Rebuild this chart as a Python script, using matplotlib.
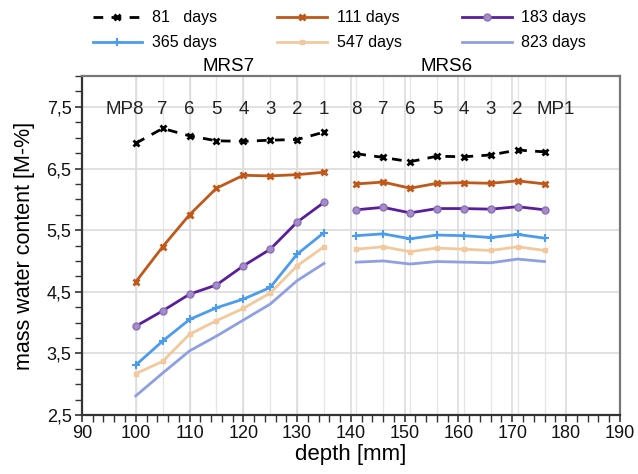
import matplotlib
matplotlib.use("Agg")
import matplotlib.pyplot as plt
from matplotlib.ticker import MultipleLocator, FuncFormatter

plt.rcParams['font.family'] = ['Liberation Sans', 'DejaVu Sans']

# ---- data ----
depth_mrs7 = [100, 105, 110, 115, 120, 125, 130, 135]
depth_mrs6 = [141, 146, 151, 156, 161, 166, 171, 176]
labels_mrs7 = ["MP8", "7", "6", "5", "4", "3", "2", "1"]
labels_mrs6 = ["8", "7", "6", "5", "4", "3", "2", "MP1"]

series_names = ["81   days", "111 days", "183 days", "365 days", "547 days", "823 days"]

d81_mrs7 = [6.91, 7.15, 7.03, 6.95, 6.94, 6.96, 6.97, 7.09]
d81_mrs6 = [6.74, 6.68, 6.61, 6.70, 6.69, 6.72, 6.80, 6.77]
d111_mrs7 = [4.66, 5.23, 5.75, 6.18, 6.39, 6.38, 6.40, 6.44]
d111_mrs6 = [6.25, 6.28, 6.18, 6.26, 6.27, 6.26, 6.30, 6.25]
d183_mrs7 = [3.94, 4.19, 4.46, 4.61, 4.92, 5.19, 5.63, 5.95]
d183_mrs6 = [5.83, 5.87, 5.78, 5.85, 5.85, 5.84, 5.88, 5.83]
d365_mrs7 = [3.31, 3.70, 4.05, 4.24, 4.38, 4.57, 5.11, 5.46]
d365_mrs6 = [5.41, 5.44, 5.36, 5.42, 5.41, 5.38, 5.43, 5.37]
d547_mrs7 = [3.17, 3.37, 3.81, 4.03, 4.23, 4.48, 4.92, 5.23]
d547_mrs6 = [5.19, 5.23, 5.15, 5.21, 5.19, 5.17, 5.23, 5.17]
d823_mrs7 = [2.81, 3.18, 3.54, 3.78, 4.04, 4.30, 4.68, 4.96]
d823_mrs6 = [4.98, 5.00, 4.95, 4.99, 4.98, 4.97, 5.03, 4.99]

point_label_y = 7.45

# ---- styles ----
styles = [
    dict(color="black", ls=(0, (3.5, 3)), marker="x", ms=4.5, mew=2.0, lw=2.0),
    dict(color="#C0581A", ls="-", marker="x", ms=5, mew=2.0, lw=2.0),
    dict(color="#5A1E9C", ls="-", marker="o", ms=5, mfc="#A48CC8", mec="#8C70B8", lw=2.0),
    dict(color="#4C9CEE", ls="-", marker="+", ms=6, mew=1.5, lw=2.0),
    dict(color="#F2C99C", ls="-", marker="s", ms=3, lw=2.0),
    dict(color="#8FA0E2", ls="-", marker=None, lw=2.0),
]

mrs7 = [d81_mrs7, d111_mrs7, d183_mrs7, d365_mrs7, d547_mrs7, d823_mrs7]
mrs6 = [d81_mrs6, d111_mrs6, d183_mrs6, d365_mrs6, d547_mrs6, d823_mrs6]

fig = plt.figure(figsize=(6.38, 4.74), dpi=100)
ax = fig.add_axes([0.1285, 0.1245, 0.843, 0.715])

ax.set_xlim(90, 190)
ax.set_ylim(2.5, 8.0)

# grid
for x in depth_mrs7 + depth_mrs6:
    ax.axvline(x, color="#E6E6E6", lw=1.0, zorder=0)
ax.grid(True, which="major", color="#DCDCDC", lw=1.2, zorder=0)
ax.set_axisbelow(True)

handles = []
for name, st, a, b in zip(series_names, styles, mrs7, mrs6):
    h, = ax.plot(depth_mrs7, a, label=name, zorder=3, **st)
    ax.plot(depth_mrs6, b, zorder=3, **st)
    handles.append(h)

def label_offset(t, side):
    # "MP" labels are shifted outward (in points) like in the original figure
    if t.startswith("MP"):
        return -8 if side == "left" else 8
    return 0

for x, t in zip(depth_mrs7, labels_mrs7):
    ax.annotate(t, (x, point_label_y), xytext=(label_offset(t, "left"), 0),
                textcoords="offset points", ha="center", va="center",
                fontsize=13.5, color="#222222")
for x, t in zip(depth_mrs6, labels_mrs6):
    ax.annotate(t, (x, point_label_y), xytext=(label_offset(t, "right"), 0),
                textcoords="offset points", ha="center", va="center",
                fontsize=13.5, color="#222222")

ax.text(117.3, 8.02, "MRS7", ha="center", va="bottom", fontsize=13.5, clip_on=False)
ax.text(157.7, 8.02, "MRS6", ha="center", va="bottom", fontsize=13.5, clip_on=False)

ax.xaxis.set_major_locator(MultipleLocator(10))
ax.xaxis.set_minor_locator(MultipleLocator(2))
ax.yaxis.set_minor_locator(MultipleLocator(0.25))
ax.set_yticks([2.5, 3.5, 4.5, 5.5, 6.5, 7.5])
ax.yaxis.set_major_formatter(FuncFormatter(lambda v, p: f"{v:.1f}".replace(".", ",")))

ax.tick_params(axis="both", which="major", labelsize=13, length=5, width=1.2, direction="out", colors="#333333", labelcolor="#111111", pad=2.5)
ax.tick_params(axis="both", which="minor", length=5, width=1.0, direction="out", colors="#333333")

for s in ["left", "bottom"]:
    ax.spines[s].set_linewidth(1.6)
    ax.spines[s].set_color("#333333")
for s in ["top", "right"]:
    ax.spines[s].set_linewidth(1.6)
    ax.spines[s].set_color("#777777")

ax.set_xlabel("depth [mm]", fontsize=16, labelpad=1)
ax.set_ylabel("mass water content [M-%]", fontsize=15.5, labelpad=8)

order = [0, 3, 1, 4, 2, 5]
fig.legend([handles[i] for i in order], [series_names[i] for i in order],
           ncol=3, frameon=False, loc="upper left", bbox_to_anchor=(0.125, 1.005),
           fontsize=11.5, handlelength=3.1, columnspacing=3.8, labelspacing=0.62,
           handletextpad=0.6, borderpad=0.3)

fig.savefig("out.png", dpi=100)
